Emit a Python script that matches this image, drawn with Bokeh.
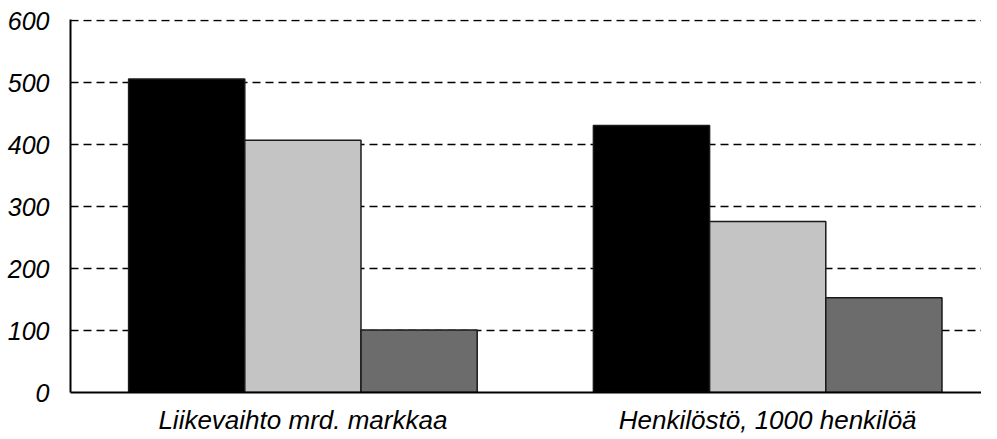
from bokeh.plotting import figure
from bokeh.models import Range1d, FixedTicker, ColumnDataSource
from bokeh.embed import file_html
from bokeh.resources import INLINE

categories = ["Liikevaihto mrd. markkaa", "Henkilöstö, 1000 henkilöä"]
series_a = [506, 431]   # black
series_b = [407, 276]   # light grey
series_c = [101, 153]   # dark grey
y_ticks = [0, 100, 200, 300, 400, 500, 600]

centers = [i + 0.5 for i in range(len(categories))]
bar_w = 0.25
offsets = [-bar_w, 0.0, bar_w]
fills = ["#000000", "#c4c4c4", "#6c6c6c"]
series = [series_a, series_b, series_c]

p = figure(width=981, height=437, output_backend="svg", toolbar_location=None,
           x_range=Range1d(0, 1.96), y_range=Range1d(0, 602),
           min_border_left=70, min_border_right=0, min_border_top=19, min_border_bottom=0)
p.outline_line_color = None
p.background_fill_color = "white"

for vals, off, col in zip(series, offsets, fills):
    src = ColumnDataSource(dict(x=[c + off for c in centers], top=vals))
    p.vbar(x="x", top="top", width=bar_w, bottom=0, source=src,
           fill_color=col, line_color="#1a1a1a", line_width=1.5)

# y axis
p.yaxis.ticker = FixedTicker(ticks=y_ticks)
p.yaxis.major_tick_line_color = None
p.yaxis.minor_tick_line_color = None
p.yaxis.axis_line_color = "black"
p.yaxis.axis_line_width = 2
p.yaxis.major_label_text_font = "Liberation Sans"
p.yaxis.major_label_text_font_style = "italic"
p.yaxis.major_label_text_font_size = "25px"
p.yaxis.major_label_text_color = "black"
p.yaxis.major_label_standoff = 15

# x axis
p.xaxis.ticker = FixedTicker(ticks=centers)
p.xaxis.major_label_overrides = {c: lab for c, lab in zip(centers, categories)}
p.xaxis.major_tick_line_color = None
p.xaxis.minor_tick_line_color = None
p.xaxis.major_tick_out = 0
p.xaxis.major_tick_in = 0
p.xaxis.axis_line_color = "black"
p.xaxis.axis_line_width = 2
p.xaxis.major_label_text_font = "Liberation Sans"
p.xaxis.major_label_text_font_style = "italic"
p.xaxis.major_label_text_font_size = "26px"
p.xaxis.major_label_text_line_height = 1.0
p.xaxis.major_label_text_color = "black"
p.xaxis.major_label_standoff = 12

p.xgrid.grid_line_color = None
p.ygrid.ticker = FixedTicker(ticks=y_ticks[1:])
p.ygrid.grid_line_color = "black"
p.ygrid.grid_line_dash = "8 5"
p.ygrid.grid_line_width = 1.5

open("out.html", "w").write(file_html(p, INLINE))
